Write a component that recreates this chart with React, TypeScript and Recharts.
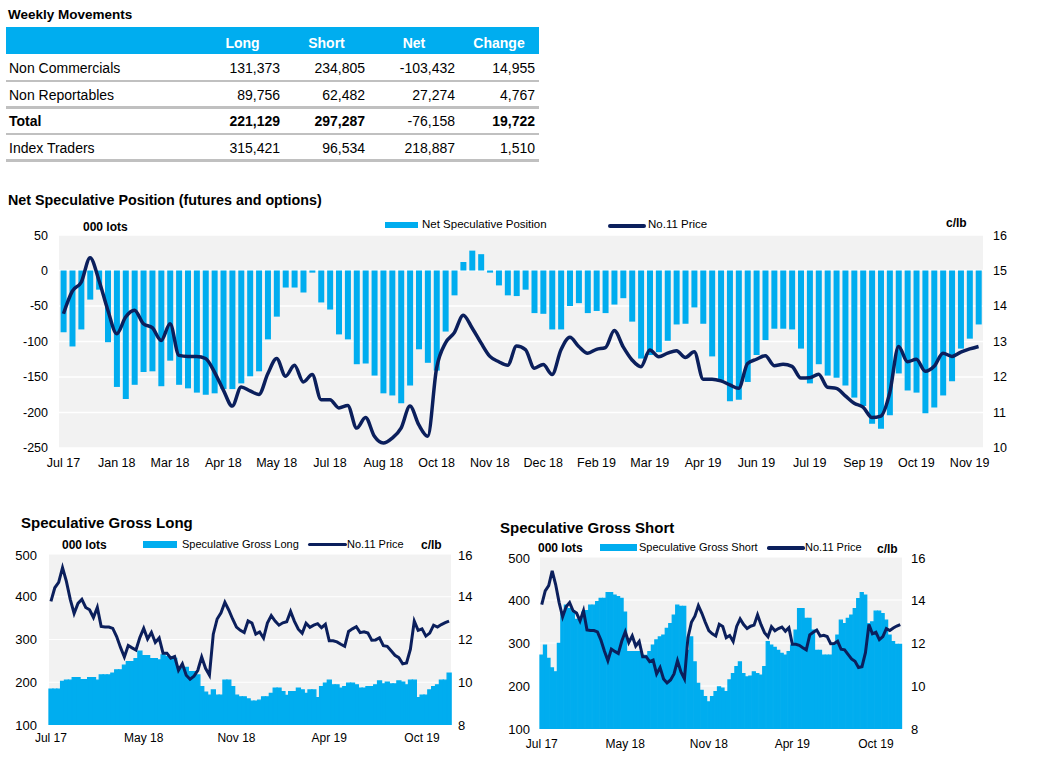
import React from 'react';
import { ComposedChart, Bar, Line, XAxis, YAxis, CartesianGrid } from 'recharts';

const FONT = "'Liberation Sans', Arial, Helvetica, sans-serif";
const CYAN = '#00adef';
const NAVY = '#0b1f5c';
const PLOT_BG = '#f2f2f2';

// ---------- table data ----------
const tableHeaders = ['Long', 'Short', 'Net', 'Change'];
const tableRowLabels = ['Non Commercials', 'Non Reportables', 'Total', 'Index Traders'];
const longCol = ['131,373', '89,756', '221,129', '315,421'];
const shortCol = ['234,805', '62,482', '297,287', '96,534'];
const netCol = ['-103,432', '27,274', '-76,158', '218,887'];
const changeCol = ['14,955', '4,767', '19,722', '1,510'];

// ---------- chart data (weekly, 104 weeks) ----------
const netPosition = [
  -87, -107, -83, -41, -27, -101, -164, -181, -161, -143,
  -142, -163, -127, -161, -166, -172, -175, -173, -167, -167,
  -159, -149, -142, -97, -65, -24, -24, -31, -3, -45,
  -55, -90, -97, -132, -131, -148, -173, -176, -187, -162,
  -111, -130, -141, -86, -35, 12, 28, 23, -3, -21,
  -35, -36, -27, -60, -61, -83, -83, -50, -46, -60,
  -57, -60, -48, -39, -72, -124, -119, -115, -99, -76,
  -75, -52, -75, -121, -155, -184, -182, -157, -119, -98,
  -82, -82, -83, -110, -159, -132, -148, -151, -162, -179,
  -191, -216, -223, -204, -145, -169, -172, -201, -193, -176,
  -156, -110, -96, -76,
];

const price = [
  13.78, 14.42, 14.67, 15.36, 14.72, 13.88, 13.22, 13.69, 13.88, 13.5,
  13.39, 13.03, 13.5, 12.61, 12.58, 12.58, 12.52, 12.14, 11.63, 11.18,
  11.72, 11.61, 11.51, 12.09, 12.52, 12.02, 12.33, 11.86, 12.07, 11.36,
  11.36, 11.13, 11.2, 10.56, 10.86, 10.33, 10.14, 10.28, 10.56, 11.18,
  10.65, 10.33, 12.25, 12.96, 13.25, 13.74, 13.38, 12.96, 12.58, 12.43,
  12.33, 12.87, 12.77, 12.25, 12.35, 12.07, 12.77, 13.12, 12.86, 12.67,
  12.78, 12.83, 13.31, 12.85, 12.48, 12.29, 12.76, 12.57, 12.67, 12.74,
  12.55, 12.71, 11.94, 11.94, 11.89, 11.78, 11.68, 12.38, 12.5, 12.6,
  12.32, 12.36, 12.3, 11.97, 11.98, 12.08, 11.71, 11.68, 11.47, 11.26,
  11.15, 10.86, 10.9, 11.55, 12.86, 12.43, 12.5, 12.16, 12.3, 12.67,
  12.58, 12.7, 12.79, 12.86,
];

const grossLong = [
  184, 184, 184, 202, 205, 205, 211, 211, 206, 206,
  211, 211, 205, 217, 217, 217, 221, 229, 229, 240,
  248, 248, 255, 273, 262, 262, 255, 255, 252, 264,
  260, 260, 256, 233, 233, 235, 225, 225, 217, 190,
  177, 170, 182, 170, 170, 205, 205, 190, 170, 166,
  166, 161, 156, 156, 158, 166, 166, 174, 186, 186,
  178, 169, 178, 178, 186, 182, 174, 182, 182, 164,
  190, 198, 205, 194, 194, 186, 190, 198, 198, 194,
  186, 186, 190, 190, 194, 203, 196, 200, 196, 196,
  203, 200, 194, 205, 205, 164, 170, 170, 182, 190,
  194, 205, 205, 221,
];

const grossShort = [
  272, 295, 264, 242, 233, 299, 372, 388, 380, 372,
  355, 355, 372, 375, 388, 388, 396, 404, 404, 417,
  417, 411, 408, 404, 372, 280, 280, 280, 280, 271,
  271, 280, 295, 307, 314, 318, 334, 345, 365, 388,
  385, 385, 283, 314, 256, 206, 190, 175, 163, 175,
  187, 198, 195, 187, 214, 229, 245, 256, 229, 221,
  223, 233, 229, 225, 245, 303, 295, 290, 283, 276,
  272, 280, 295, 330, 380, 380, 357, 357, 330, 283,
  283, 272, 272, 272, 299, 318, 353, 345, 357, 365,
  380, 403, 417, 411, 345, 349, 374, 374, 368, 353,
  318, 303, 297, 297,
];

const mainTickLabels = [
  'Jul 17', 'Jan 18', 'Mar 18', 'Apr 18', 'May 18', 'Jul 18', 'Aug 18', 'Oct 18', 'Nov 18',
  'Dec 18', 'Feb 19', 'Mar 19', 'Apr 19', 'Jun 19', 'Jul 19', 'Sep 19', 'Oct 19', 'Nov 19',
];
const lowerTickLabels = ['Jul 17', 'May 18', 'Nov 18', 'Apr 19', 'Oct 19'];

const netTicks = [-250, -200, -150, -100, -50, 0, 50];
const priceTicksMain = [10, 11, 12, 13, 14, 15, 16];
const grossTicks = [100, 200, 300, 400, 500];
const priceTicksLower = [8, 10, 12, 14, 16];

const data = netPosition.map((v, i) => ({
  week: i,
  net: v,
  price: price[i],
  long: grossLong[i],
  short: grossShort[i],
}));

// ---------- helpers ----------
type TxtProps = {
  x: number;
  cy: number;
  size: number;
  bold?: boolean;
  color?: string;
  children: React.ReactNode;
};
const Txt = ({ x, cy, size, bold, color, children }: TxtProps) => (
  <div
    style={{
      position: 'absolute',
      left: x,
      top: cy - size / 2,
      fontSize: size,
      lineHeight: `${size}px`,
      fontWeight: bold ? 'bold' : 'normal',
      color: color || '#000',
      whiteSpace: 'nowrap',
      fontFamily: FONT,
    }}
  >
    {children}
  </div>
);

const Swatch = ({ x, y, w, h, color, round }: { x: number; y: number; w: number; h: number; color: string; round?: boolean }) => (
  <div style={{ position: 'absolute', left: x, top: y, width: w, height: h, background: color, borderRadius: round ? h / 2 : 0 }} />
);

const colEdges = [6, 201, 284, 369, 459, 539];
const rowCenters = [68, 94.5, 121, 147.5];
const rowLines = [79.5, 106, 132.5, 159];

const WeeklyTable = () => {
  const cols = [longCol, shortCol, netCol, changeCol];
  return (
    <>
      <Txt x={8} cy={15} size={13.5} bold>Weekly Movements</Txt>
      <div style={{ position: 'absolute', left: 6, top: 27, width: 533, height: 27, background: CYAN }} />
      {tableHeaders.map((h, j) => (
        <div
          key={h}
          style={{
            position: 'absolute',
            left: colEdges[j + 1],
            width: colEdges[j + 2] - colEdges[j + 1],
            top: 42.5 - 7,
            fontSize: 14,
            lineHeight: '14px',
            fontWeight: 'bold',
            color: '#fff',
            textAlign: 'center',
            fontFamily: FONT,
          }}
        >
          {h}
        </div>
      ))}
      {tableRowLabels.map((r, i) => (
        <React.Fragment key={r}>
          <Txt x={9} cy={rowCenters[i]} size={14} bold={r === 'Total'}>{r}</Txt>
          {cols.map((c, j) => (
            <div
              key={j}
              style={{
                position: 'absolute',
                left: colEdges[j + 1],
                width: colEdges[j + 2] - colEdges[j + 1] - 4,
                top: rowCenters[i] - 7,
                fontSize: 14,
                lineHeight: '14px',
                fontWeight: r === 'Total' && j !== 2 ? 'bold' : 'normal',
                textAlign: 'right',
                fontFamily: FONT,
                whiteSpace: 'nowrap',
              }}
            >
              {c[i]}
            </div>
          ))}
          <div style={{ position: 'absolute', left: 6, top: rowLines[i], width: 533, height: 2.5, background: '#c0c0c0' }} />
        </React.Fragment>
      ))}
    </>
  );
};

const tickStyle = (size: number) => ({ fill: '#000', fontSize: size, fontFamily: FONT });

const MainChart = () => (
  <div style={{ position: 'absolute', left: 0, top: 228 }}>
    <ComposedChart
      width={1038}
      height={250}
      data={data}
      margin={{ top: 7, right: 0, bottom: 0, left: 0 }}
      barCategoryGap="18%"
    >
      <CartesianGrid yAxisId="left" vertical={false} stroke="#ffffff" strokeWidth={1.5} fill={PLOT_BG} />
      <XAxis
        dataKey="week"
        type="category"
        interval={5}
        height={30}
        tickSize={0}
        tickMargin={10.5}
        axisLine={false}
        tickLine={false}
        tick={tickStyle(12.5)}
        tickFormatter={(v: number) => mainTickLabels[Math.round(Number(v) / 6)] ?? ''}
      />
      <YAxis
        yAxisId="left"
        width={59}
        domain={[-250, 50]}
        ticks={netTicks}
        tickSize={0}
        tickMargin={11}
        axisLine={false}
        tickLine={false}
        tick={tickStyle(12.5)}
        allowDataOverflow
      />
      <YAxis
        yAxisId="right"
        orientation="right"
        width={55}
        domain={[10, 16]}
        ticks={priceTicksMain}
        tickSize={0}
        tickMargin={10}
        axisLine={false}
        tickLine={false}
        tick={tickStyle(12.5)}
        allowDataOverflow
      />
      <Bar yAxisId="left" dataKey="net" fill={CYAN} isAnimationActive={false} />
      <Line
        yAxisId="right"
        dataKey="price"
        type="monotone"
        stroke={NAVY}
        strokeWidth={3.5}
        dot={false}
        activeDot={false}
        isAnimationActive={false}
      />
    </ComposedChart>
  </div>
);

type LowerProps = {
  left: number;
  top: number;
  width: number;
  leftAxisWidth: number;
  rightAxisWidth: number;
  plotHeight: number;
  dataKey: string;
  leftTickMargin: number;
  rightTickMargin: number;
  xTickMargin: number;
};

const LowerChart = (p: LowerProps) => (
  <div style={{ position: 'absolute', left: p.left, top: p.top }}>
    <ComposedChart
      width={p.width}
      height={7 + p.plotHeight + 25}
      data={data}
      margin={{ top: 7, right: 0, bottom: 0, left: 0 }}
      barCategoryGap={0}
      barGap={0}
    >
      <CartesianGrid yAxisId="left" vertical={false} stroke="#ffffff" strokeWidth={1.2} fill={PLOT_BG} />
      <XAxis
        dataKey="week"
        type="category"
        interval={23}
        height={25}
        tickSize={0}
        tickMargin={p.xTickMargin}
        axisLine={false}
        tickLine={false}
        tick={tickStyle(12)}
        tickFormatter={(v: number) => lowerTickLabels[Math.round(Number(v) / 24)] ?? ''}
      />
      <YAxis
        yAxisId="left"
        width={p.leftAxisWidth}
        domain={[100, 500]}
        ticks={grossTicks}
        tickSize={0}
        tickMargin={p.leftTickMargin}
        axisLine={false}
        tickLine={false}
        tick={tickStyle(13)}
        allowDataOverflow
      />
      <YAxis
        yAxisId="right"
        orientation="right"
        width={p.rightAxisWidth}
        domain={[8, 16]}
        ticks={priceTicksLower}
        tickSize={0}
        tickMargin={p.rightTickMargin}
        axisLine={false}
        tickLine={false}
        tick={tickStyle(13)}
        allowDataOverflow
      />
      <Bar
        yAxisId="left"
        dataKey={p.dataKey}
        fill={CYAN}
        stroke={CYAN}
        strokeWidth={1.3}
        isAnimationActive={false}
      />
      <Line
        yAxisId="right"
        dataKey="price"
        type="linear"
        stroke={NAVY}
        strokeWidth={3}
        dot={false}
        activeDot={false}
        isAnimationActive={false}
      />
    </ComposedChart>
  </div>
);

export default function App() {
  return (
    <div
      style={{
        position: 'absolute',
        left: 0,
        top: 0,
        width: 1038,
        height: 758,
        background: '#ffffff',
        fontFamily: FONT,
        overflow: 'hidden',
      }}
    >
      <WeeklyTable />

      {/* Net speculative position */}
      <Txt x={8} cy={200} size={14.3} bold>Net Speculative Position (futures and options)</Txt>
      <Txt x={83} cy={226.5} size={12} bold>000 lots</Txt>
      <Swatch x={385} y={222} w={33} h={5.5} color={CYAN} />
      <Txt x={422} cy={225} size={11.5}>Net Speculative Position</Txt>
      <Swatch x={608} y={223.5} w={38} h={4} color={NAVY} round />
      <Txt x={648} cy={225} size={11.5}>No.11 Price</Txt>
      <Txt x={946} cy={223} size={12} bold>c/lb</Txt>
      <MainChart />

      {/* Speculative gross long */}
      <Txt x={21} cy={522.5} size={15} bold>Speculative Gross Long</Txt>
      <Txt x={62} cy={544.5} size={12} bold>000 lots</Txt>
      <Swatch x={143} y={541} w={34} h={7} color={CYAN} />
      <Txt x={182} cy={544.5} size={11}>Speculative Gross Long</Txt>
      <Swatch x={308} y={542.5} w={39} h={3.5} color={NAVY} round />
      <Txt x={347} cy={544.5} size={11}>No.11 Price</Txt>
      <Txt x={421} cy={545} size={12} bold>c/lb</Txt>
      <LowerChart
        left={0}
        top={547}
        width={490}
        leftAxisWidth={49}
        rightAxisWidth={39}
        plotHeight={171}
        dataKey="long"
        leftTickMargin={12}
        rightTickMargin={7}
        xTickMargin={8.8}
      />

      {/* Speculative gross short */}
      <Txt x={500} cy={527} size={15} bold>Speculative Gross Short</Txt>
      <Txt x={538} cy={548} size={12} bold>000 lots</Txt>
      <Swatch x={600} y={544} w={37} h={7} color={CYAN} />
      <Txt x={639} cy={547.5} size={11}>Speculative Gross Short</Txt>
      <Swatch x={767} y={546} w={38} h={3.5} color={NAVY} round />
      <Txt x={805} cy={547.5} size={11}>No.11 Price</Txt>
      <Txt x={877} cy={549} size={12} bold>c/lb</Txt>
      <LowerChart
        left={490}
        top={550}
        width={440}
        leftAxisWidth={50}
        rightAxisWidth={28}
        plotHeight={172}
        dataKey="short"
        leftTickMargin={10}
        rightTickMargin={9}
        xTickMargin={10.8}
      />
    </div>
  );
}
